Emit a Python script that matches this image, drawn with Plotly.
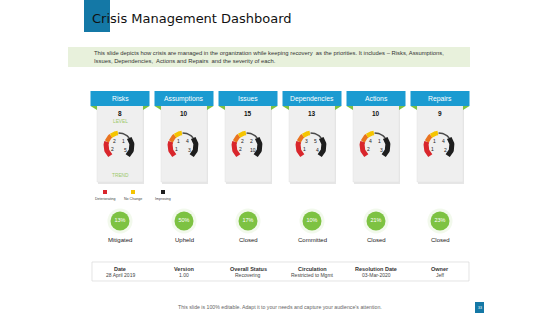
import numpy as np
import plotly.graph_objects as go

# ---------------- data ----------------
categories = ["Risks", "Assumptions", "Issues", "Dependencies", "Actions", "Repairs"]
totals = [8, 10, 15, 13, 10, 9]
gauge_top_left = [2, 1, 2, 3, 4, 1]
gauge_top_right = [1, 4, 2, 5, 1, 4]
gauge_bot_left = [2, 1, 2, 1, 2, 1]
gauge_bot_right = [5, 3, 10, 4, 3, 2]
percents = ["13%", "50%", "17%", "10%", "21%", "23%"]
statuses = ["Mitigated", "Upheld", "Closed", "Committed", "Closed", "Closed"]
legend_labels = ["Deteriorating", "No Change", "Improving"]
legend_colors = ["#d9262c", "#f5c400", "#1e1e1e"]
table_headers = ["Date", "Version", "Overall Status", "Circulation", "Resolution Date", "Owner"]
table_values = ["28 April 2019", "1.00", "Recovering", "Restricted to Mgmt", "03-Mar-2020", "Jeff"]
# gauge segments: (start angle, end angle, colour, width)
gauge_segments = [(228, 160, "#d9262c", 5), (160, 128, "#e9731f", 4.5),
                  (128, 95, "#f5c400", 4.5), (92, 38, "#4a4a4a", 1.5),
                  (38, -48, "#1e1e1e", 5)]

title = "Crisis Management Dashboard"
intro = ("This slide depicts how crisis are managed in the organization while keeping recovery  as the priorities. It includes \u2013 Risks, Assumptions,<br>"
         "Issues, Dependencies,  Actions and Repairs  and the severity of each.")
footer = "This slide is 100% editable. Adapt it to your needs and capture your audience's attention."

FONT = "Liberation Sans"
BLUE = "#1b9bd1"
GREEN = "#7dc242"

fig = go.Figure()
shapes = []
ann = []

def text(x, y, s, size, color="#222", bold=False, xanchor="center", family=FONT):
    ann.append(dict(x=x, y=y, xref="x", yref="y", text=f"<b>{s}</b>" if bold else s,
                    showarrow=False, font=dict(size=size, color=color, family=family),
                    xanchor=xanchor, yanchor="middle"))

# title block
shapes.append(dict(type="rect", x0=84, x1=110, y0=0, y1=32, fillcolor="#1478a6", line_width=0, layer="below"))
text(90, 18.5, title, 13, "#111", xanchor="left", family="DejaVu Sans")
# intro box
shapes.append(dict(type="rect", x0=68, x1=470, y0=47, y1=67, fillcolor="#e8f1dc", line_width=0, layer="below"))
ann.append(dict(x=92, y=57, xref="x", yref="y", text=intro, showarrow=False, align="left",
                font=dict(size=5.85, color="#333", family=FONT), xanchor="left", yanchor="middle"))

centers = [120 + 64 * i for i in range(len(categories))]
for i, cat in enumerate(categories):
    cx = centers[i]
    # card shadow + card
    shapes.append(dict(type="rect", x0=cx - 22, x1=cx + 24, y0=106, y1=184, fillcolor="#e6e6e6",
                       line_width=0, layer="below"))
    shapes.append(dict(type="rect", x0=cx - 23, x1=cx + 23, y0=104, y1=182, fillcolor="#efefef",
                       line=dict(color="#e2e2e2", width=0.5), layer="below"))
    # green tab corners
    for sgn in (-1, 1):
        x_out = cx + sgn * 29.5
        x_in = cx + sgn * 23
        shapes.append(dict(type="path", path=f"M {x_out} 106 L {x_in} 106 L {x_in} 110 Z",
                           fillcolor=GREEN, line_width=0))
    shapes.append(dict(type="rect", x0=cx - 29.5, x1=cx + 29.5, y0=91, y1=106, fillcolor=BLUE, line_width=0))
    text(cx, 98.5, cat, 6.8, "white")
    text(cx, 113, str(totals[i]), 6.5, "#111111", bold=True)
    if i == 0:
        text(cx, 121, "LEVEL", 4.8, "#9cc96b")
        text(cx, 175, "TREND", 4.8, "#9cc96b")
    # gauge
    gx, gy, r = cx - 1, 146, 13
    for a0, a1, col, w in gauge_segments:
        t = np.radians(np.linspace(a0, a1, 30))
        fig.add_trace(go.Scatter(x=gx + r * np.cos(t), y=gy - r * np.sin(t), mode="lines",
                                 line=dict(color=col, width=w), hoverinfo="skip", showlegend=False))
    text(gx - 4.5, gy - 5, str(gauge_top_left[i]), 5, "#222")
    text(gx + 4.5, gy - 5, str(gauge_top_right[i]), 5, "#222")
    text(gx - 6.5, gy + 3, str(gauge_bot_left[i]), 5, "#222")
    text(gx + 6, gy + 3.5, str(gauge_bot_right[i]), 5, "#222")
    # percent circles
    fig.add_trace(go.Scatter(x=[cx], y=[221], mode="markers",
                             marker=dict(size=25, color="rgba(125,194,66,0.10)", line_width=0),
                             hoverinfo="skip", showlegend=False))
    fig.add_trace(go.Scatter(x=[cx], y=[221], mode="markers+text", text=[percents[i]],
                             textfont=dict(size=5.5, color="white", family=FONT),
                             marker=dict(size=19, color=GREEN, line_width=0),
                             hoverinfo="skip", showlegend=False))
    text(cx, 240, statuses[i], 6, "#222")
    # table
    text(cx, 268.5, table_headers[i], 5.5, "#333", bold=True)
    text(cx, 275, table_values[i], 5, "#444")

# legend
lx = [105, 133, 163]
fig.add_trace(go.Scatter(x=lx, y=[192] * 3, mode="markers",
                         marker=dict(symbol="square", size=4, color=legend_colors),
                         hoverinfo="skip", showlegend=False))
for x, lab in zip(lx, legend_labels):
    text(x, 198.5, lab, 3.6, "#444")

shapes.append(dict(type="rect", x0=92, x1=469, y0=262, y1=281, fillcolor="white",
                   line=dict(color="#d8d8d8", width=0.7), layer="below"))
text(280, 307, footer, 5.2, "#666")
shapes.append(dict(type="rect", x0=475, x1=484, y0=302, y1=313, fillcolor="#1478a6", line_width=0))
text(479.5, 307.5, "33", 3.5, "white")

fig.update_layout(width=560, height=315, margin=dict(l=0, r=0, t=0, b=0),
                  paper_bgcolor="white", plot_bgcolor="white", shapes=shapes, annotations=ann,
                  xaxis=dict(range=[0, 560], visible=False, fixedrange=True),
                  yaxis=dict(range=[315, 0], visible=False, fixedrange=True),
                  showlegend=False)
fig.write_html("out.html")
